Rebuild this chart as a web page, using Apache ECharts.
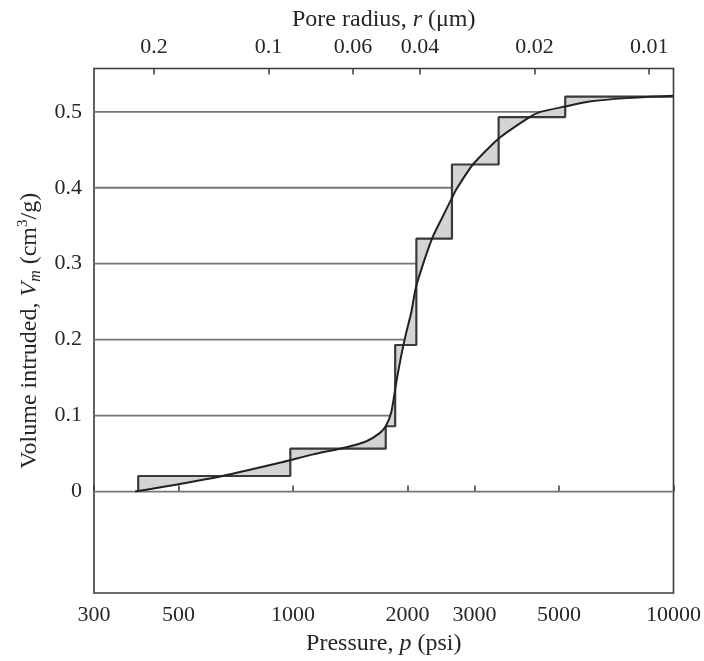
<!DOCTYPE html>
<html>

<head>
	<meta charset="UTF-8">
	<title>Mercury intrusion</title>
	<style>
		body {
			margin: 0;
			background: #fff;
		}

		#chart {
			width: 704px;
			height: 661px;
		}
	</style>
	<script src="https://cdn.jsdelivr.net/npm/echarts@6/dist/echarts.min.js"></script>
</head>

<body>
	<div id="chart"></div>
	<script>
		// tick labels
		var pressureTicks = [300, 500, 1000, 2000, 3000, 5000, 10000];
		var radiusTicks = [0.2, 0.1, 0.06, 0.04, 0.02, 0.01];
		var volumeTicks = [0, 0.1, 0.2, 0.3, 0.4, 0.5];
		var washburnK = 86.3; // r (um) = K / p (psi)

		// histogram steps: pressure where the step rises, volume after the rise
		var stepPressure = [392, 984, 1753, 1856, 2110, 2617, 3471, 5193];
		var stepVolume = [0.0205, 0.0565, 0.086, 0.193, 0.333, 0.4306, 0.493, 0.520];

		// smooth intrusion curve
		var curvePressure = [385, 630, 923, 1130, 1382, 1560, 1690, 1753, 1814, 1870, 1927, 1986,
			2047, 2102, 2219, 2333, 2455, 2608, 2688, 2971, 3456, 4185, 4449, 5193, 6016, 7508, 10000];
		var curveVolume = [0, 0.019, 0.038, 0.049, 0.0585, 0.0663, 0.077, 0.086, 0.105, 0.145, 0.18, 0.21,
			0.2365, 0.268, 0.306, 0.336, 0.3586, 0.385, 0.398, 0.4306, 0.464, 0.493, 0.4996, 0.507, 0.5135, 0.518, 0.521];

		var pMin = 300, pMax = 10000;
		var font = 'Liberation Serif';
		var ink = '#262626';

		// step outline as vertices
		var stepPts = [[stepPressure[0], 0]];
		stepPressure.forEach(function (p, i) {
			var next = i + 1 < stepPressure.length ? stepPressure[i + 1] : pMax;
			stepPts.push([p, stepVolume[i]]);
			stepPts.push([next, stepVolume[i]]);
		});

		var curvePts = curvePressure.map(function (p, i) { return [p, curveVolume[i]]; });

		// pressure where the curve reaches volume v (interpolated in log p)
		function curveCross(v) {
			for (var i = 1; i < curvePts.length; i++) {
				var a = curvePts[i - 1], b = curvePts[i];
				if (v >= a[1] && v <= b[1]) {
					var t = (v - a[1]) / (b[1] - a[1]);
					return Math.pow(10, Math.log10(a[0]) + t * (Math.log10(b[0]) - Math.log10(a[0])));
				}
			}
			return pMax;
		}

		var series = [];

		volumeTicks.forEach(function (v) {
			var end = v === 0 ? pMax : curveCross(v);
			series.push({
				type: 'line',
				data: [[pMin, v], [end, v]],
				symbol: 'none',
				silent: true,
				z: 1,
				lineStyle: { color: '#767676', width: 1.8 }
			});
		});

		series.push({
			type: 'custom',
			data: [[1000, 0]],
			silent: true,
			z: 2,
			renderItem: function (params, api) {
				var pts = stepPts.concat(curvePts.slice().reverse()).map(function (d) {
					return api.coord(d);
				});
				return {
					type: 'polygon',
					shape: { points: pts },
					style: { fill: '#d3d4d6', stroke: null }
				};
			}
		});

		series.push({
			type: 'line',
			data: stepPts,
			symbol: 'none',
			silent: true,
			z: 3,
			lineStyle: { color: '#3a3a3a', width: 2.2 }
		});

		series.push({
			type: 'line',
			data: curvePts,
			symbol: 'none',
			smooth: 0.2,
			silent: true,
			z: 4,
			lineStyle: { color: '#222', width: 2 }
		});

		var myChart = echarts.init(document.getElementById('chart'));

		myChart.setOption({
			animation: false,
			grid: {
				left: 94,
				right: 30,
				top: 68.5,
				bottom: 65,
				show: true,
				borderColor: '#3a3a3a',
				borderWidth: 1.6
			},
			xAxis: [{
				type: 'log',
				min: pMin,
				max: pMax,
				position: 'bottom',
				axisLine: { show: false },
				splitLine: { show: false },
				axisTick: {
					inside: true,
					length: 6,
					customValues: pressureTicks,
					lineStyle: { color: '#3a3a3a', width: 1.5 }
				},
				axisLabel: {
					customValues: pressureTicks,
					margin: 11,
					color: ink,
					fontFamily: font,
					fontSize: 22,
					formatter: function (v) { return String(Math.round(v)); }
				},
				name: '{t|Pressure, }{i|p}{t| (psi)}',
				nameLocation: 'middle',
				nameGap: 39,
				nameTextStyle: {
					rich: {
						t: { fontFamily: font, fontSize: 24, color: ink },
						i: { fontFamily: font, fontSize: 24, color: ink, fontStyle: 'italic' }
					}
				}
			}, {
				type: 'log',
				min: pMin,
				max: pMax,
				position: 'top',
				axisLine: { show: false },
				splitLine: { show: false },
				axisTick: {
					inside: true,
					length: 6,
					customValues: radiusTicks.map(function (r) { return washburnK / r; }),
					lineStyle: { color: '#3a3a3a', width: 1.5 }
				},
				axisLabel: {
					customValues: radiusTicks.map(function (r) { return washburnK / r; }),
					margin: 10,
					color: ink,
					fontFamily: font,
					fontSize: 22,
					formatter: function (v) { return String(parseFloat((washburnK / v).toPrecision(2))); }
				},
				name: '{t|Pore radius, }{i|r}{t| (μm)}',
				nameLocation: 'middle',
				nameGap: 37,
				nameTextStyle: {
					rich: {
						t: { fontFamily: font, fontSize: 24, color: ink },
						i: { fontFamily: font, fontSize: 24, color: ink, fontStyle: 'italic' }
					}
				}
			}],
			yAxis: {
				type: 'value',
				min: -0.1335,
				max: 0.557,
				axisLine: { show: false },
				axisTick: { show: false },
				splitLine: { show: false },
				axisLabel: {
					customValues: volumeTicks,
					margin: 12,
					color: ink,
					fontFamily: font,
					fontSize: 22,
					formatter: function (v) { return v === 0 ? '0' : v.toFixed(1); }
				},
				name: '{t|Volume intruded, }{i|V}{sub|m}{t| (cm}{sup|3}{t|/g)}',
				nameLocation: 'middle',
				nameRotate: 90,
				nameGap: 44,
				nameTextStyle: {
					rich: {
						t: { fontFamily: font, fontSize: 24, color: ink, lineHeight: 28 },
						i: { fontFamily: font, fontSize: 24, color: ink, fontStyle: 'italic', lineHeight: 28 },
						sub: { fontFamily: font, fontSize: 16, color: ink, fontStyle: 'italic', lineHeight: 16, verticalAlign: 'bottom' },
						sup: { fontFamily: font, fontSize: 15, color: ink, lineHeight: 15, verticalAlign: 'top' }
					}
				}
			},
			series: series
		});
	</script>
</body>

</html>
